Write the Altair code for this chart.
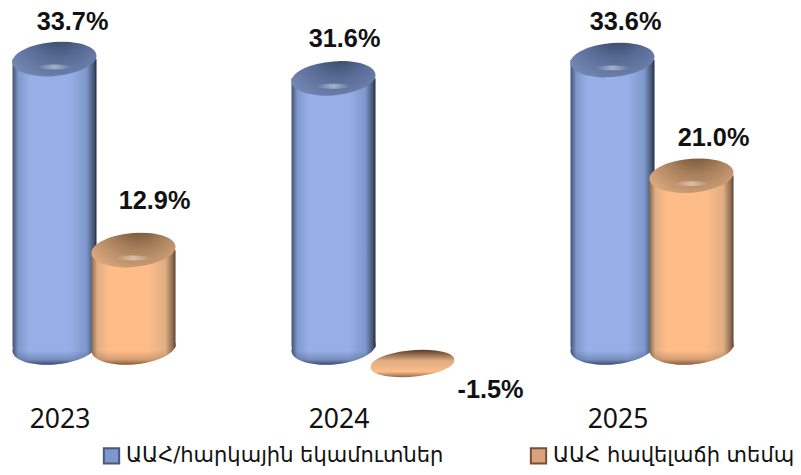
import altair as alt
import pandas as pd

years = ["2023", "2024", "2025"]
series_names = ["ԱԱՀ/հարկային եկամուտներ", "ԱԱՀ հավելաճի տեմպ"]
revenue_share = [33.7, 31.6, 33.6]
growth_rate = [12.9, -1.5, 21.0]
label_text = ["33.7%", "31.6%", "33.6%", "12.9%", "-1.5%", "21.0%"]

blue = dict(edge="#44526f", mid="#7e98cc", light="#96afe6", top0="#28344c", top1="#566a94", rim="#7488b4", dark="#1e2a44", legend="#7f97cc", stroke="#4a5878")
orange = dict(edge="#8a6a50", mid="#dfae83", light="#fdbc88", top0="#5a3a22", top1="#a67f5b", rim="#dca97f", dark="#5a3d28", legend="#d9a27a", stroke="#74503a")

df = pd.DataFrame({
    "year": years * 2,
    "series": [series_names[0]] * 3 + [series_names[1]] * 3,
    "value": revenue_share + growth_rate,
    "label": label_text,
    "zero": [0.0] * 6,
})

x_scale = alt.Scale(domain=years, range=[-53.5, 783.5], paddingInner=0, paddingOuter=0)
off_scale = alt.Scale(type="point", domain=series_names, range=[100, 179], padding=0)
y_scale = alt.Scale(domain=[-1.5, 0, 12.9, 33.7], range=[355.5, 339.5, 242, 51], clamp=False)

X = alt.X("year:N", scale=x_scale, sort=years,
          axis=alt.Axis(title=None, domain=False, ticks=False, labelAngle=0, labelFontSize=26.5,
                        labelFont="Noto Sans", labelColor="#111111", labelOffset=-34, labelPadding=-2))
XO = alt.XOffset("series:N", scale=off_scale, sort=series_names)
Y = alt.Y("value:Q", scale=y_scale, axis=None)
Y0 = alt.Y("zero:Q", scale=y_scale, axis=None)

ELLIPSE = "M-0.997,0.035 A1,0.4 -5 1,1 0.997,-0.035 A1,0.4 -5 1,1 -0.997,0.035 Z"
FLAT = "M-0.995,0.07 A1,0.3 -5 1,1 0.995,-0.07 A1,0.3 -5 1,1 -0.995,0.07 Z"
GLINT = "M-1,0 A1,0.14 0 1,1 1,0 A1,0.14 0 1,1 -1,0 Z"
SIZE = 84 * 84


def stops(*pairs):
    return [alt.GradientStop(offset=o, color=col) for o, col in pairs]


def grad_h(c):
    return alt.Gradient(gradient="linear", x1=0, x2=1, y1=0, y2=0, stops=stops(
        (0, c["edge"]), (0.07, c["mid"]), (0.2, c["light"]), (0.68, c["light"]),
        (0.88, c["mid"]), (0.97, c["edge"]), (1, c["dark"])))


def grad_top(c):
    return alt.Gradient(gradient="radial", x1=0.55, y1=0.1, x2=0.55, y2=0.1, r1=0, r2=0.85, stops=stops(
        (0, c["top0"]), (0.45, c["top1"]), (0.85, c["rim"]), (1, c["mid"])))


def grad_shade(c):
    return alt.Gradient(gradient="linear", x1=0, x2=0, y1=0, y2=1, stops=stops(
        (0, c["dark"] + "00"), (0.6, c["dark"] + "00"), (0.85, c["dark"] + "40"), (1, c["dark"] + "c0")))


def grad_flat(c):
    return alt.Gradient(gradient="linear", x1=0, x2=0, y1=0, y2=1, stops=stops(
        (0, c["top0"]), (0.4, c["mid"]), (0.8, c["light"]), (1, c["edge"])))


def grad_glint():
    return alt.Gradient(gradient="radial", x1=0.5, y1=0.5, x2=0.5, y2=0.5, r1=0, r2=0.5, stops=stops(
        (0, "#ffffff70"), (1, "#ffffff00")))


layers = []
for name, c in zip(series_names, [blue, orange]):
    part = alt.Chart(df).transform_filter(f"datum.series === '{name}' && datum.value >= 0")
    neg = alt.Chart(df).transform_filter(f"datum.series === '{name}' && datum.value < 0")
    layers.append(part.mark_point(shape=ELLIPSE, size=SIZE, filled=True, fill=grad_h(c), opacity=1, strokeWidth=0)
                  .encode(x=X, xOffset=XO, y=Y0))
    layers.append(part.mark_bar(size=84, fill=grad_h(c), strokeWidth=0).encode(x=X, xOffset=XO, y=Y, y2=alt.Y2("zero:Q")))
    layers.append(part.mark_point(shape=ELLIPSE, size=SIZE, filled=True, fill=grad_shade(c), opacity=1, strokeWidth=0)
                  .encode(x=X, xOffset=XO, y=Y0))
    layers.append(part.mark_point(shape=ELLIPSE, size=SIZE, filled=True, fill=grad_top(c), opacity=1, strokeWidth=0)
                  .encode(x=X, xOffset=XO, y=Y))
    layers.append(part.mark_point(shape=GLINT, size=1200, filled=True, fill=grad_glint(), opacity=1, strokeWidth=0, yOffset=8, xOffset=-4)
                  .encode(x=X, xOffset=XO, y=Y))
    layers.append(neg.mark_point(shape=FLAT, size=SIZE, filled=True, fill=grad_flat(c), opacity=1, strokeWidth=0)
                  .encode(x=X, xOffset=XO, y=Y))

label_layout = {"33.7%": (18, -37), "31.6%": (11, -39), "33.6%": (13, -38),
                "12.9%": (21, -49), "-1.5%": (78, 26), "21.0%": (22, -38)}
for lab, (dx, dy) in label_layout.items():
    layers.append(alt.Chart(df).transform_filter(f"datum.label === '{lab}'")
                  .mark_text(font="Liberation Sans", fontWeight="bold", fontSize=25.3, color="#111111", dx=dx, dy=dy)
                  .encode(x=X, xOffset=XO, y=Y, text="label:N"))

series_legend = alt.Legend(title=None, orient="none", legendX=93, legendY=437, columns=2,
                           symbolType="square", symbolSize=235, symbolOpacity=1, symbolStrokeWidth=2,
                           labelFont="DejaVu Sans", labelFontSize=21, labelColor="#111111",
                           labelLimit=600, columnPadding=82)
legend_layer = alt.Chart(df).mark_point(filled=True, size=0, opacity=0).encode(
    x=X, xOffset=XO, y=Y,
    fill=alt.Fill("series:N", sort=series_names,
                  scale=alt.Scale(domain=series_names, range=[blue["legend"], orange["legend"]]),
                  legend=series_legend),
    stroke=alt.Stroke("series:N", sort=series_names,
                      scale=alt.Scale(domain=series_names, range=[blue["stroke"], orange["stroke"]]),
                      legend=series_legend),
)
layers.append(legend_layer)

chart = alt.layer(*layers).properties(
    width=785, height=400,
    padding=alt.Padding(left=0, top=0, right=0, bottom=67),
    autosize=alt.AutoSizeParams(type="none"),
    background="white",
).configure_view(stroke=None)

chart.save("out.html", embed_options={"renderer": "svg", "actions": False})
